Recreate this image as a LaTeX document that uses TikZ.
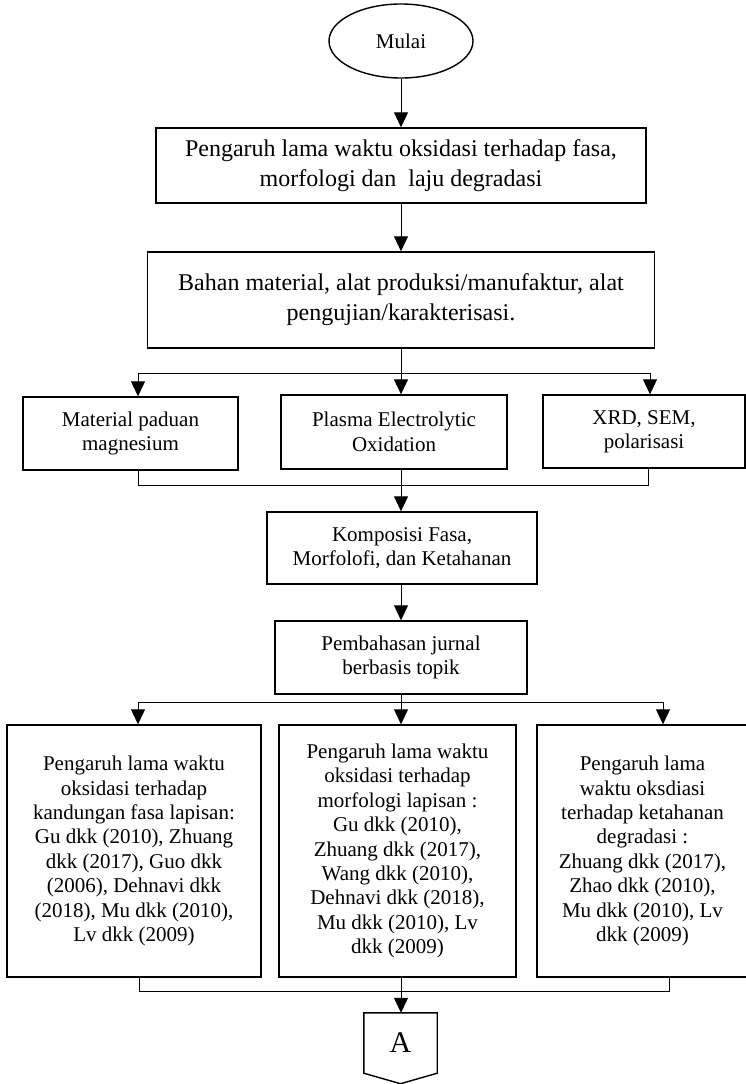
\documentclass[tikz,border=0pt]{standalone}
\usepackage{fontspec}
\setmainfont{Liberation Serif}
\usetikzlibrary{arrows.meta,shapes.geometric}
\begin{document}
\begin{tikzpicture}[x=1pt,y=-1pt,
  box/.style={draw, line width=1.4pt, rectangle, inner sep=0pt, align=center},
  big/.style={font=\fontsize{24}{30}\selectfont},
  small/.style={font=\fontsize{21}{24.4}\selectfont},
  conn/.style={line width=1pt},
  arr/.style={conn, -{Triangle[width=14pt,length=15pt]}}]
\useasboundingbox (0,0) rectangle (746,1084);
\fill[white] (0,0) rectangle (746,1084);

% nodes
\node[draw, ellipse, line width=1.4pt, inner sep=0pt, minimum width=144pt, minimum height=74pt, small] (start) at (401,41) {Mulai};
\node[box, big, minimum width=490pt, minimum height=75pt] (b1) at (401,165.5) {Pengaruh lama waktu oksidasi terhadap fasa,\\ morfologi dan~ laju degradasi};
\node[box, big, minimum width=507pt, minimum height=96pt] (b2) at (401,300) {Bahan material, alat produksi/manufaktur, alat\\ pengujian/karakterisasi.};

\node[box, small, minimum width=215pt, minimum height=73pt] (mat) at (130.5,433.5) {Material paduan\\ magnesium};
\node[box, small, minimum width=226pt, minimum height=74pt] (peo) at (394,432) {Plasma Electrolytic\\ Oxidation};
\node[box, small, minimum width=202pt, minimum height=73pt] (xrd) at (644,431.5) {XRD, SEM,\\ polarisasi};

\node[box, small, minimum width=270pt, minimum height=72pt] (komp) at (402,548) {Komposisi Fasa,\\ Morfolofi, dan Ketahanan};
\node[box, small, minimum width=252pt, minimum height=73pt] (pemb) at (401,657.5) {Pembahasan jurnal\\ berbasis topik};

\node[box, small, minimum width=254pt, minimum height=252pt] (fasa) at (134,851) {Pengaruh lama waktu\\ oksidasi terhadap\\ kandungan fasa lapisan:\\ Gu dkk (2010), Zhuang\\ dkk (2017), Guo dkk\\ (2006), Dehnavi dkk\\ (2018), Mu dkk (2010),\\ Lv dkk (2009)};
\node[box, small, minimum width=237pt, minimum height=252pt] (morf) at (397.5,851) {Pengaruh lama waktu\\ oksidasi terhadap\\ morfologi lapisan :\\ Gu dkk (2010),\\ Zhuang dkk (2017),\\ Wang dkk (2010),\\ Dehnavi dkk (2018),\\ Mu dkk (2010), Lv\\ dkk (2009)};
\node[box, small, minimum width=211pt, minimum height=252pt] (degr) at (642.5,851) {Pengaruh lama\\ waktu oksdiasi\\ terhadap ketahanan\\ degradasi :\\ Zhuang dkk (2017),\\ Zhao dkk (2010),\\ Mu dkk (2010), Lv\\ dkk (2009)};

\node[inner sep=0pt, minimum width=73pt, minimum height=60pt, font=\fontsize{30}{36}\selectfont] (offA) at (400.5,1043) {\raisebox{-4pt}{A}};
\draw[line width=1.4pt] (offA.north west) -- (offA.north east) -- (offA.south east) -- ([yshift=-10.5pt]offA.south) -- (offA.south west) -- cycle;

% coordinates
\coordinate (br1) at (401,373);
\coordinate (br1L) at (138,373);
\coordinate (br1R) at (650,373);
\coordinate (j1) at (401,485);
\coordinate (j1L) at (138,485);
\coordinate (j1R) at (648,485);
\coordinate (br2) at (401,702);
\coordinate (br2L) at (138,702);
\coordinate (br2R) at (663,702);
\coordinate (j2) at (401,991);
\coordinate (j2L) at (139,991);
\coordinate (j2R) at (669,991);

% connectors
\draw[arr] (start.south) -- (b1.north);
\draw[arr] (b1.south) -- (b1.south |- b2.north);
\draw[conn] (b2.south -| br1) -- (br1);
\draw[conn] (br1L) -- (br1R);
\draw[arr] (br1L) -- (br1L |- mat.north);
\draw[arr] (br1) -- (br1 |- peo.north);
\draw[arr] (br1R) -- (br1R |- xrd.north);

\draw[conn] (j1L |- mat.south) -- (j1L) -- (j1R) -- (j1R |- xrd.south);
\draw[conn] (j1 |- peo.south) -- (j1);
\draw[arr] (j1) -- (j1 |- komp.north);
\draw[arr] (pemb.north |- komp.south) -- (pemb.north);

\draw[conn] (pemb.south) -- (br2);
\draw[conn] (br2L) -- (br2R);
\draw[arr] (br2L) -- (br2L |- fasa.north);
\draw[arr] (br2) -- (br2 |- morf.north);
\draw[arr] (br2R) -- (br2R |- degr.north);

\draw[conn] (j2L |- fasa.south) -- (j2L) -- (j2R) -- (j2R |- degr.south);
\draw[conn] (j2 |- morf.south) -- (j2);
\draw[arr] (j2) -- (offA.north -| j2);
\end{tikzpicture}
\end{document}
